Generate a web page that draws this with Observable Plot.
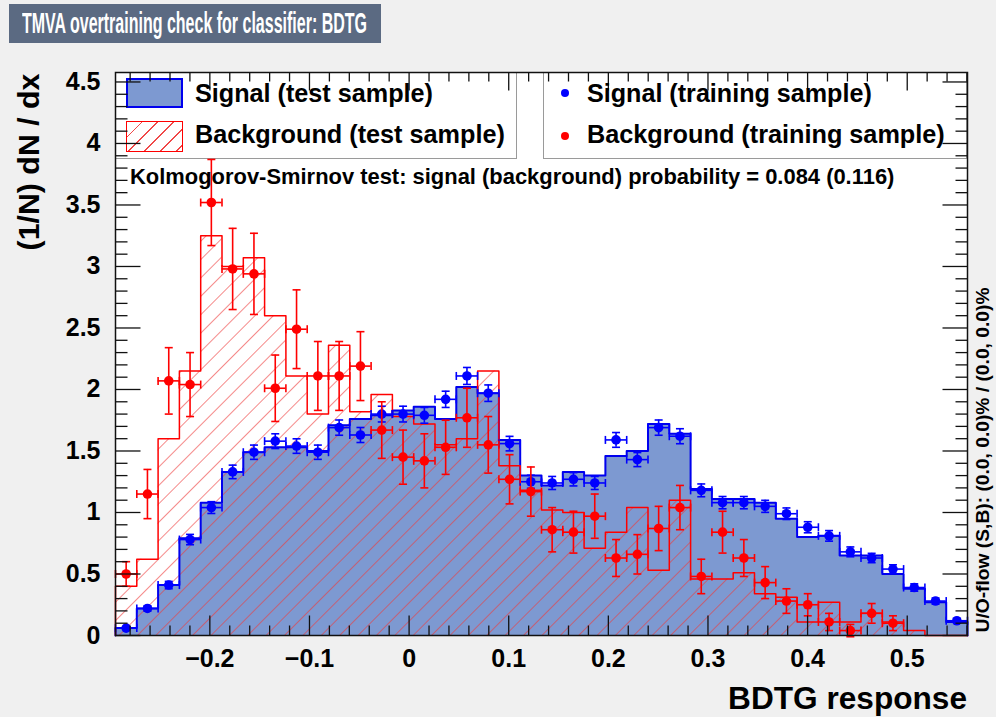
<!DOCTYPE html>
<html><head><meta charset="utf-8">
<script src="https://cdn.jsdelivr.net/npm/d3@7"></script>
<script src="https://cdn.jsdelivr.net/npm/@observablehq/plot@0.6"></script>
<style>
body{margin:0;background:#f0f0f0;font-family:"Liberation Sans",Arial,Helvetica,sans-serif;}
#wrap{position:relative;width:996px;height:717px;overflow:hidden;background:#f0f0f0;}
.abs{position:absolute;}
.txt{position:absolute;white-space:nowrap;font-weight:bold;color:#000;line-height:1;display:inline-block;}
#plot{position:absolute;left:0;top:0;}
</style></head><body>
<div id="wrap">
  <div class="abs" style="left:115px;top:72px;width:852px;height:563px;background:#fff;"></div>
  <div class="abs" style="left:115px;top:72px;width:402px;height:87px;background:#fff;border:1px solid #9a9a9a;box-sizing:border-box;"></div>
  <div class="abs" style="left:543px;top:72px;width:424px;height:87px;background:#fff;border:1px solid #9a9a9a;box-sizing:border-box;"></div>
  <div class="abs" style="left:126px;top:78px;width:57px;height:30px;background:#7d99d1;border:2px solid #0000ee;box-sizing:border-box;"></div>
  <div class="abs" style="left:126px;top:121px;width:57px;height:31px;border:1.5px solid #ff0000;box-sizing:border-box;background:repeating-linear-gradient(135deg,rgba(0,0,0,0) 0px,rgba(0,0,0,0) 10px,#f04848 10px,#f04848 11.2px);"></div>
  <div class="abs" style="left:561px;top:89px;width:8px;height:8px;border-radius:50%;background:#0000ff;"></div>
  <div class="abs" style="left:561px;top:132px;width:8px;height:8px;border-radius:50%;background:#ff0000;"></div>
  <div id="plot"></div>
  <div class="abs" style="left:9px;top:4px;width:372px;height:39px;background:#5b6a82;"></div>
  <span class="txt" id="tTitle" style="color:#fff;">TMVA overtraining check for classifier: BDTG</span>
  <span class="txt" id="tL1">Signal (test sample)</span>
  <span class="txt" id="tL2">Background (test sample)</span>
  <span class="txt" id="tL3">Signal (training sample)</span>
  <span class="txt" id="tL4">Background (training sample)</span>
  <span class="txt" id="tKS">Kolmogorov-Smirnov test: signal (background) probability = 0.084 (0.116)</span>
  <span class="txt" id="tY">(1/N) dN / dx</span>
  <span class="txt" id="tX">BDTG response</span>
  <span class="txt" id="tUO">U/O-flow (S,B): (0.0, 0.0)% / (0.0, 0.0)%</span>
</div>
<script>
// ---- data ----
const nBins = 40;
const xMin = -0.2947, xMax = 0.5605;
const sigTest = [0.06,0.22,0.41,0.79,1.08,1.33,1.49,1.53,1.53,1.50,1.71,1.76,1.79,1.83,1.86,1.76,2.02,1.97,1.59,1.30,
                 1.22,1.33,1.30,1.46,1.50,1.72,1.64,1.19,1.11,1.11,1.08,0.95,0.80,0.81,0.65,0.65,0.50,0.38,0.27,0.11];
const bkgTest = [0.40,0.62,1.60,2.15,3.25,3.00,3.07,2.60,2.11,1.80,2.36,1.82,1.96,1.78,1.72,1.55,1.60,2.15,1.38,1.18,
                 1.02,1.00,0.71,0.84,1.04,0.53,1.10,0.46,0.46,0.51,0.34,0.31,0.11,0.27,0.11,0.18,0.11,0.04,0.00,0.00];
const sigTrain = [0.06,0.22,0.41,0.78,1.04,1.33,1.49,1.58,1.54,1.49,1.69,1.63,1.80,1.80,1.79,1.92,2.11,1.97,1.56,1.25,
                  1.24,1.27,1.24,1.59,1.43,1.69,1.62,1.18,1.08,1.08,1.05,0.99,0.88,0.81,0.68,0.63,0.54,0.39,0.28,0.12];
const sigTrainErr = [0.012,0.022,0.030,0.042,0.048,0.055,0.058,0.060,0.059,0.058,0.062,0.061,0.064,0.064,0.064,0.066,0.069,0.067,0.059,0.053,
                     0.053,0.054,0.053,0.060,0.057,0.062,0.061,0.052,0.050,0.050,0.049,0.047,0.045,0.043,0.040,0.038,0.035,0.030,0.025,0.017];
const bkgTrain = [0.50,1.15,2.07,2.04,3.52,2.98,2.94,2.01,2.49,2.11,2.11,2.19,1.67,1.45,1.42,1.53,1.77,1.55,1.27,1.17,
                  0.86,0.84,0.97,0.63,0.66,0.87,1.04,0.48,0.84,0.63,0.43,0.28,0.25,0.11,0.04,0.18,0.10,null,null,null];
const bkgTrainErr = [0.10,0.20,0.27,0.26,0.35,0.33,0.33,0.27,0.32,0.28,0.28,0.28,0.23,0.22,0.22,0.22,0.24,0.23,0.20,0.20,
                     0.18,0.17,0.18,0.15,0.16,0.18,0.18,0.14,0.17,0.15,0.13,0.10,0.09,0.07,0.05,0.08,0.06,null,null,null];
const xTicks = [-0.2,-0.1,0,0.1,0.2,0.3,0.4,0.5];
const xTickLabels = ["\u22120.2","\u22120.1","0","0.1","0.2","0.3","0.4","0.5"];
const yTicks = [0,0.5,1,1.5,2,2.5,3,3.5,4,4.5];
const yTickLabels = ["0","0.5","1","1.5","2","2.5","3","3.5","4","4.5"];
const yMax = 4.577;

// ---- derived tables ----
const bw = (xMax - xMin) / nBins;
const edges = d3.range(nBins + 1).map(i => xMin + i * bw);
function stepPts(vals) {
  const pts = [{x: edges[0], y: 0}];
  vals.forEach((v, i) => pts.push({x: edges[i], y: v}));
  pts.push({x: edges[nBins], y: vals[nBins - 1]});
  pts.push({x: edges[nBins], y: 0});
  return pts;
}
const sigStep = stepPts(sigTest), bkgStep = stepPts(bkgTest);
const sigPts = sigTrain.map((v, i) => ({x: (edges[i] + edges[i+1]) / 2, x1: edges[i], x2: edges[i+1], y: v, e: sigTrainErr[i]}));
const bkgPts = bkgTrain.map((v, i) => ({x: (edges[i] + edges[i+1]) / 2, x1: edges[i], x2: edges[i+1], y: v, e: bkgTrainErr[i]})).filter(d => d.y != null);
const xMinor = d3.range(-14, 29).filter(k => k % 5 !== 0).map(k => k * 0.02);
const yMinor = d3.range(1, 46).filter(k => k % 5 !== 0).map(k => k / 10);

// ---- custom symbols (ticks and error-bar caps) ----
const len = s => Math.sqrt(s / Math.PI);
const tickSym = (dx, dy) => ({draw(c, s) { const l = len(s); c.moveTo(0, 0); c.lineTo(dx * l, dy * l); }});
const hcap = {draw(c, s) { const l = len(s); c.moveTo(-l, 0); c.lineTo(l, 0); }};
const vcap = {draw(c, s) { const l = len(s); c.moveTo(0, -l); c.lineTo(0, l); }};

function pointMarks(data, color) {
  return [
    Plot.ruleX(data, {x: "x", y1: d => d.y - d.e, y2: d => d.y + d.e, stroke: color, strokeWidth: 1.6}),
    Plot.ruleY(data, {y: "y", x1: "x1", x2: "x2", stroke: color, strokeWidth: 1.6}),
    Plot.dot(data, {x: "x", y: d => d.y - d.e, symbol: hcap, r: 4, stroke: color, fill: "none", strokeWidth: 1.6}),
    Plot.dot(data, {x: "x", y: d => d.y + d.e, symbol: hcap, r: 4, stroke: color, fill: "none", strokeWidth: 1.6}),
    Plot.dot(data, {x: "x1", y: "y", symbol: vcap, r: 4, stroke: color, fill: "none", strokeWidth: 1.6}),
    Plot.dot(data, {x: "x2", y: "y", symbol: vcap, r: 4, stroke: color, fill: "none", strokeWidth: 1.6}),
    Plot.dot(data, {x: "x", y: "y", r: 4.8, fill: color, stroke: "none"})
  ];
}
function tickMarks(vals, axis, r) {
  const st = {stroke: "#111", fill: "none", strokeWidth: 1.3, r};
  if (axis === "x") return [
    Plot.dot(vals, {x: d => d, frameAnchor: "bottom", symbol: tickSym(0, -1), ...st}),
    Plot.dot(vals, {x: d => d, frameAnchor: "top", symbol: tickSym(0, 1), ...st, r: r * 0.9})
  ];
  return [
    Plot.dot(vals, {y: d => d, frameAnchor: "left", symbol: tickSym(1, 0), ...st}),
    Plot.dot(vals, {y: d => d, frameAnchor: "right", symbol: tickSym(-1, 0), ...st})
  ];
}

const svg = Plot.plot({
  width: 996, height: 717,
  marginLeft: 115, marginRight: 29, marginTop: 72, marginBottom: 82,
  style: {background: "transparent", fontFamily: "'Liberation Sans', Arial, sans-serif", fontWeight: "bold", color: "#000", overflow: "visible"},
  x: {domain: [xMin, xMax], axis: null},
  y: {domain: [0, yMax], axis: null},
  marks: [
    Plot.areaY(sigStep, {x: "x", y: "y", curve: "step-after", fill: "#7d99d1"}),
    Plot.areaY(bkgStep, {x: "x", y: "y", curve: "step-after", fill: "url(#bkgHatch)"}),
    Plot.line(sigStep, {x: "x", y: "y", curve: "step-after", stroke: "#0000ee", strokeWidth: 2}),
    Plot.line(bkgStep, {x: "x", y: "y", curve: "step-after", stroke: "#ff0000", strokeWidth: 1.5}),
    ...pointMarks(sigPts, "#0000ff"),
    ...pointMarks(bkgPts, "#ff0000"),
    ...tickMarks(xTicks, "x", 20),
    ...tickMarks(xMinor, "x", 10),
    ...tickMarks(yTicks, "y", 25),
    ...tickMarks(yMinor, "y", 12),
    Plot.axisX(xTicks, {anchor: "bottom", tickSize: 0, tickPadding: 14, tickFormat: d => xTickLabels[xTicks.indexOf(d)], fontSize: 25, label: null}),
    Plot.axisY(yTicks, {anchor: "left", tickSize: 0, tickPadding: 15, tickFormat: d => yTickLabels[yTicks.indexOf(d)], fontSize: 25, label: null}),
    Plot.frame({stroke: "#111", strokeWidth: 1.5})
  ]
});
d3.select(svg).insert("defs", ":first-child").html(
  '<pattern id="bkgHatch" patternUnits="userSpaceOnUse" width="13" height="13" patternTransform="rotate(45)">' +
  '<line x1="0" y1="0" x2="0" y2="13" stroke="#ee3a3a" stroke-width="1.2"/></pattern>');
document.getElementById("plot").appendChild(svg);

// ---- text placement helpers ----
function fitFont(id, target, base) {
  const el = document.getElementById(id);
  el.style.fontSize = base + "px";
  const f = base * target / el.getBoundingClientRect().width;
  el.style.fontSize = f + "px";
  return [el, f];
}
function place(id, left, baseline, target, base) {
  const [el, f] = fitFont(id, target, base);
  el.style.left = left + "px";
  el.style.top = (baseline - 0.85 * f) + "px";
}
function placeRight(id, right, baseline, target, base) {
  const [el, f] = fitFont(id, target, base);
  el.style.left = (right - el.getBoundingClientRect().width) + "px";
  el.style.top = (baseline - 0.85 * f) + "px";
}
function placeRot(id, cx, cy, target, base) {
  const [el] = fitFont(id, target, base);
  el.style.left = cx + "px";
  el.style.top = cy + "px";
  el.style.transform = "translate(-50%,-50%) rotate(-90deg)";
}
place("tL1", 195, 102, 238, 25);
place("tL2", 195, 143, 310, 25);
place("tL3", 587, 102, 285, 25);
place("tL4", 587, 143, 358, 25);
place("tKS", 130, 185, 765, 18);
placeRight("tX", 967, 710, 239, 31);
placeRot("tY", 29, 162, 177, 27);
placeRot("tUO", 983, 460, 345, 14);
// title: condensed look via horizontal scaling, checked against the rendered width
(function () {
  const f = 30, target = 345;
  const el = document.getElementById("tTitle");
  el.style.fontSize = f + "px";
  el.style.left = "22px";
  el.style.top = (33 - 0.85 * f) + "px";
  el.style.transformOrigin = "0 0";
  let k = target / el.getBoundingClientRect().width;
  el.style.transform = "scaleX(" + k + ")";
  const w = el.getBoundingClientRect().width;
  if (w > 0) { k *= target / w; el.style.transform = "scaleX(" + k + ")"; }
})();
</script>
</body></html>
